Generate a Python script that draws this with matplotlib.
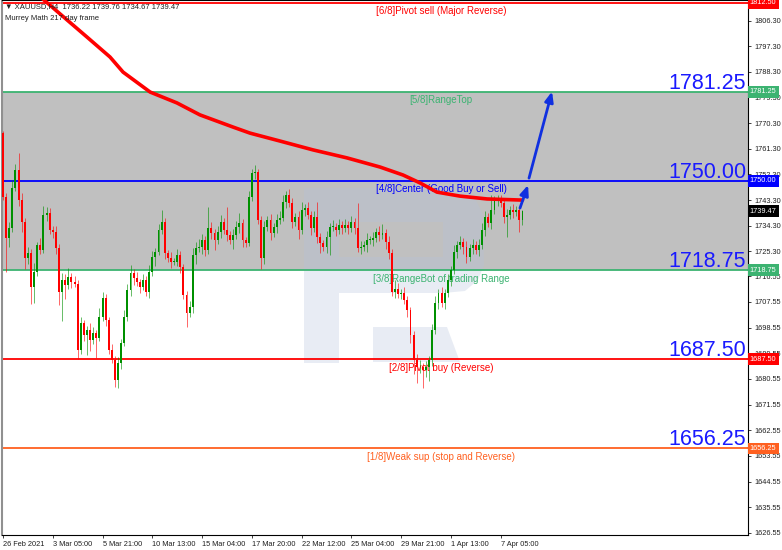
import numpy as np
import matplotlib.pyplot as plt
import matplotlib.transforms as mtransforms
from matplotlib.patches import Polygon, Rectangle

plt.rcParams['font.family'] = ['Liberation Sans', 'DejaVu Sans']

# XAUUSD H4 closes, first open given separately
first_open = 1766.8
closes = [1744.4, 1730.0, 1733.5, 1747.5, 1753.9, 1743.3, 1735.6, 1723.0, 1724.7, 1712.8,
          1718.1, 1727.5, 1725.8, 1738.1, 1738.8, 1732.8, 1732.1, 1726.5, 1711.0, 1715.3,
          1713.5, 1716.3, 1714.6, 1713.9, 1690.7, 1700.2, 1696.0, 1697.7, 1694.2, 1696.7,
          1694.9, 1702.3, 1708.9, 1701.2, 1690.7, 1687.2, 1680.2, 1686.1, 1693.2, 1702.3,
          1711.8, 1717.7, 1716.0, 1714.6, 1712.8, 1715.3, 1711.0, 1718.1, 1723.3, 1725.1,
          1732.8, 1735.6, 1724.7, 1723.0, 1721.6, 1721.6, 1724.0,
          1719.8, 1710.0, 1703.7, 1705.8, 1724.0, 1726.5, 1726.8, 1729.3, 1725.8, 1733.5,
          1731.8, 1729.3, 1732.1, 1735.6, 1732.8, 1731.1, 1729.3, 1731.1, 1733.9, 1735.3,
          1729.3, 1728.2, 1744.4, 1752.8, 1753.2, 1736.3, 1723.0, 1733.9, 1736.3, 1731.8,
          1733.9, 1736.3, 1737.0, 1742.6, 1745.1, 1742.3, 1735.6, 1737.4, 1732.8, 1739.8,
          1740.5, 1738.1, 1733.5, 1737.4, 1730.4, 1728.2, 1726.8, 1730.4, 1733.9, 1733.9,
          1732.8, 1734.6, 1733.5, 1734.6, 1733.5,
          1735.6, 1733.5, 1726.5, 1726.8, 1727.5, 1729.3, 1729.3, 1730.0, 1732.1, 1731.1,
          1731.8, 1728.6, 1724.7, 1711.0, 1712.2, 1710.5, 1710.7, 1708.2, 1704.7, 1696.0,
          1687.2, 1684.7, 1684.7, 1683.7, 1684.7, 1687.2, 1697.7, 1707.2, 1710.7, 1707.2,
          1710.7, 1715.3, 1718.8, 1725.1, 1727.5, 1728.6, 1726.8, 1723.3, 1726.5, 1727.5,
          1725.8, 1727.5, 1732.8, 1737.4, 1735.3, 1739.8, 1743.3, 1744.0, 1742.3, 1737.4,
          1738.1, 1739.8, 1739.1, 1739.8, 1736.22, 1739.47]

# wick lengths above / below the body
upper_wick = [0.7, 1.5, 2.0, 3.0, 2.0, 5.9, 2.5, 1.5, 2.0, 1.5, 3.0, 1.0, 2.5, 3.0, 2.0, 1.7, 1.5, 2.0, 1.5, 2.5,
              2.0, 3.0, 1.5, 2.0, 1.5, 2.0, 1.0, 1.5, 2.5, 2.0, 1.0, 3.0, 2.0, 1.5, 1.0, 2.0, 1.5, 2.0, 1.5, 2.5,
              2.0, 3.0, 1.5, 2.0, 1.0, 2.0, 1.5, 2.5, 2.0, 1.5, 2.0, 4.2, 1.5, 1.0, 2.0, 1.5, 2.0,
              1.5, 1.0, 1.5, 2.0, 2.5, 2.0, 3.0, 2.0, 1.5, 7.4, 2.0, 1.5, 2.0, 2.5, 1.5, 8.1, 1.5, 2.0, 2.0, 3.5,
              1.5, 1.0, 2.0, 1.5, 2.4, 1.0, 1.5, 2.0, 1.5, 2.0, 1.5, 2.0, 2.5, 2.5, 1.5, 2.0, 1.7, 1.5, 2.0, 3.0,
              1.5, 2.0, 1.5, 2.0, 5.2, 1.5, 1.0, 2.0, 1.5, 2.5, 1.5, 2.0, 1.5, 2.0, 1.5,
              2.0, 1.5, 8.8, 2.0, 1.5, 2.5, 1.5, 2.0, 1.5, 2.0, 3.0, 1.5, 2.0, 1.5, 3.0, 2.0, 1.5, 2.0, 1.5, 1.0,
              1.5, 2.0, 2.5, 1.5, 2.0, 1.5, 2.0, 2.5, 1.5, 2.0, 1.5, 2.0, 1.5, 2.5, 1.5, 2.0, 1.5, 2.0, 1.5, 2.0,
              1.5, 2.0, 2.5, 2.0, 1.5, 5.3, 1.5, 1.0, 1.0, 1.5, 2.0, 1.5, 2.0, 1.5, 1.0, 0.29]
lower_wick = [1.0, 12.0, 3.0, 1.5, 1.0, 2.0, 3.5, 4.0, 2.0, 6.0, 5.6, 1.5, 1.5, 1.0, 2.0, 1.5, 2.0, 2.0, 4.5, 10.0,
              5.0, 1.5, 2.0, 1.0, 3.0, 1.5, 2.0, 7.0, 4.0, 1.5, 7.0, 1.0, 1.5, 2.0, 1.5, 1.0, 2.5, 2.7, 2.0, 1.0,
              1.5, 2.0, 2.5, 1.5, 2.0, 1.0, 1.5, 2.0, 1.5, 3.0, 1.0, 1.5, 2.0, 1.5, 2.0, 1.0, 1.5,
              2.0, 1.5, 4.9, 1.5, 2.0, 3.0, 1.5, 2.5, 2.0, 1.5, 2.0, 3.5, 1.5, 2.0, 1.5, 2.0, 1.5, 3.0, 1.5, 2.0,
              2.5, 1.5, 1.0, 1.5, 2.0, 1.5, 3.9, 2.0, 1.5, 2.5, 1.5, 2.0, 1.5, 1.0, 2.0, 1.5, 2.0, 1.5, 3.0, 1.5,
              2.0, 1.5, 2.5, 1.5, 2.0, 3.6, 1.5, 2.0, 6.4, 1.5, 2.0, 1.5, 2.0, 1.5, 2.0,
              1.5, 2.0, 1.5, 2.0, 1.5, 2.5, 1.5, 2.0, 1.5, 2.0, 1.5, 2.5, 2.0, 1.5, 2.0, 1.5, 2.0, 1.5, 2.5, 3.0,
              5.0, 5.6, 2.0, 6.2, 2.5, 4.7, 2.0, 1.5, 2.0, 1.5, 2.0, 1.5, 2.0, 1.5, 2.0, 1.5, 2.5, 2.0, 1.5, 2.0,
              1.5, 2.0, 1.5, 2.0, 1.5, 2.0, 1.5, 2.0, 1.5, 2.0, 7.0, 1.5, 2.0, 1.5, 4.2, 1.55]

# moving average (knots)
ma_idx = [10.5, 20.6, 27.0, 34.4, 38.6, 47.3, 55.9, 63.3, 74.0, 79.4, 89.1, 99.7,
          110.6, 121.2, 128.6, 134.1, 139.5, 146.9, 155.6, 167.0]
ma_vals = [1816.0, 1806.5, 1800.5, 1793.5, 1788.2, 1781.2, 1777.4, 1773.2, 1768.9, 1766.8, 1764.0, 1760.9,
           1758.1, 1754.9, 1752.1, 1749.3, 1746.1, 1744.7, 1743.7, 1743.3]

# Murrey Math levels
levels = [1812.50, 1781.25, 1750.00, 1718.75, 1687.50, 1656.25]
level_names = ['[6/8]Pivot sell (Major Reverse)', '[5/8]RangeTop', '[4/8]Center (Good Buy or Sell)',
               '[3/8]RangeBot of trading Range', '[2/8]Pivot buy (Reverse)', '[1/8]Weak sup (stop and Reverse)']
level_colors = ['#ff0000', '#3cb371', '#0000ff', '#3cb371', '#ff0000', '#ff6020']
big_levels = [1781.25, 1750.00, 1718.75, 1687.50, 1656.25]

ytick_vals = [1626.55, 1635.55, 1644.55, 1653.55, 1662.55, 1671.55, 1680.55, 1689.55, 1698.55, 1707.55,
              1716.55, 1725.30, 1734.30, 1743.30, 1752.30, 1761.30, 1770.30, 1779.30, 1788.30, 1797.30, 1806.30]
xtick_idx = [0, 16, 32, 48, 64, 80, 96, 112, 128, 144, 160]
xtick_labels = ['26 Feb 2021', '3 Mar 05:00', '5 Mar 21:00', '10 Mar 13:00', '15 Mar 04:00', '17 Mar 20:00',
                '22 Mar 12:00', '25 Mar 04:00', '29 Mar 21:00', '1 Apr 13:00', '7 Apr 05:00']

last_bar = ['1736.22', '1739.76', '1734.67', '1739.47']

fig = plt.figure(figsize=(7.82, 5.5), dpi=100)
ax = fig.add_axes([2/782, 15/550, 746/782, 535/550])
ax.set_xlim(-0.32, 239.5)
ax.set_ylim(1625.8, 1813.5)

def px(x, y):
    # pixel position of the reference -> axes fraction (decoration only)
    return ((x - 2) / 746, (535 - y) / 535)

# range box
ax.axhspan(levels[3], levels[1], color='#c0c0c0', zorder=0, lw=0)

# watermark "R"
wm = dict(transform=ax.transAxes, facecolor='#b4c2dc', alpha=0.3, edgecolor='none', zorder=1)
shapes = [
    [(304, 188), (339, 188), (339, 363), (304, 363)],
    [(339, 188), (443, 188), (443, 222), (339, 222)],
    [(443, 188), (462, 190), (476, 200), (483, 215), (484, 265), (478, 280), (465, 291), (443, 293)],
    [(339, 257), (443, 257), (443, 293), (339, 293)],
    [(373, 327), (447, 327), (460, 362), (373, 362)],
]
for s in shapes:
    ax.add_patch(Polygon([px(*p) for p in s], closed=True, **wm))

# candles
c = np.array(closes)
o = np.concatenate([[first_open], c[:-1]])
o[-1] = 1736.22
hi = np.maximum(o, c) + np.array(upper_wick)
lo = np.minimum(o, c) - np.array(lower_wick)
x = np.arange(len(c))
bull = c >= o
cols = np.where(bull, '#009000', '#ff0000')
ax.vlines(x, lo, hi, colors=cols, lw=0.7, alpha=0.6, zorder=3)
ax.bar(x, np.maximum(np.abs(c - o), 0.2), bottom=np.minimum(o, c), width=0.62, color=cols, lw=0, zorder=3)

# moving average
ax.plot(ma_idx, ma_vals, color='#ff0000', lw=2.6, zorder=4, solid_capstyle='round', solid_joinstyle='round')

# level lines and labels
yblend = mtransforms.blended_transform_factory(ax.transAxes, ax.transData)
for lv, name, col in zip(levels, level_names, level_colors):
    ax.axhline(lv, color=col, lw=1.3, zorder=2)
    ax.annotate(name, xy=(0.5885, lv), xycoords=yblend, xytext=(0, -2.5), textcoords='offset points',
                ha='center', va='top', fontsize=7, color=col, zorder=2)
    ax.text(1.0025, lv, f'{lv:.2f}', transform=yblend, ha='left', va='center', fontsize=5.3, color='white',
            zorder=10, clip_on=False, bbox=dict(boxstyle='square,pad=0.3', fc=col, ec='none'))
ax.text(1.0025, float(last_bar[3]), last_bar[3], transform=yblend, ha='left', va='center', fontsize=5.3,
        color='white', zorder=10, clip_on=False, bbox=dict(boxstyle='square,pad=0.3', fc='black', ec='none'))

for lv in big_levels:
    ax.annotate(f'{lv:.2f}', xy=(0.9975, lv), xycoords=yblend, xytext=(0, 2), textcoords='offset points',
                ha='right', va='baseline', fontsize=15.5, color='#1a1aff', zorder=5)

# forecast arrows
arrow_kw = dict(arrowstyle='-|>,head_length=0.6,head_width=0.25', color='#1030e0', lw=2, shrinkA=0, shrinkB=0)
ax.annotate('', xy=(168.8, 1748.6), xytext=(166.2, 1740.5), arrowprops=arrow_kw, zorder=6)
ax.annotate('', xy=(176.5, 1781.4), xytext=(169.1, 1751.0), arrowprops=arrow_kw, zorder=6)

# header
ax.text(0.004, 0.995, '\u25bc XAUUSD,H4  ' + ' '.join(last_bar), transform=ax.transAxes, ha='left', va='top',
        fontsize=5.5, color='#202020', zorder=10)
ax.text(0.004, 0.972, 'Murrey Math 217 day frame', transform=ax.transAxes, ha='left', va='top',
        fontsize=5.5, color='#202020', zorder=10)

# axes
ax.yaxis.tick_right()
ax.set_yticks(ytick_vals)
ax.set_yticklabels([f'{v:.2f}' for v in ytick_vals])
ax.set_xticks(xtick_idx)
ax.set_xticklabels(xtick_labels, ha='left')
ax.tick_params(axis='y', length=2.5, width=0.6, labelsize=5.3, pad=2, colors='#202020')
ax.tick_params(axis='x', length=2.5, width=0.6, labelsize=5.3, pad=1.5, colors='#202020')
for sp in ['right', 'bottom', 'top']:
    ax.spines[sp].set_color('black')
    ax.spines[sp].set_linewidth(0.8)
ax.spines['left'].set_color('#909090')
ax.spines['left'].set_linewidth(1.5)

fig.savefig('out.png', dpi=100)
